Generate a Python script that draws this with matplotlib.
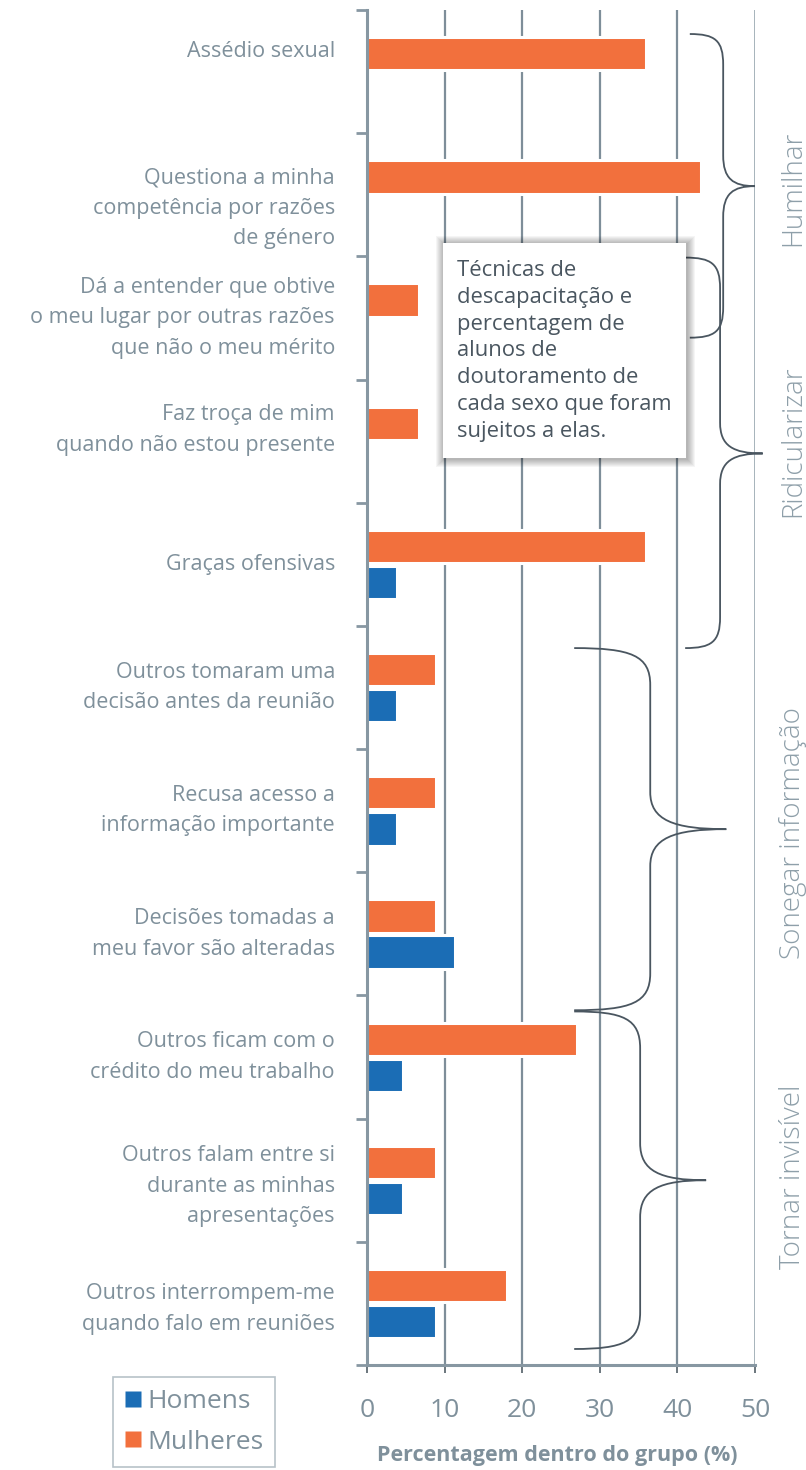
import matplotlib
matplotlib.use("Agg")
import matplotlib.pyplot as plt
from matplotlib.patches import Rectangle, PathPatch
from matplotlib.path import Path
from matplotlib.lines import Line2D
import numpy as np

plt.rcParams['font.family'] = ['Open Sans', 'DejaVu Sans']

# ---------------- data ----------------
categories = [
    "Assédio sexual",
    "Questiona a minha\ncompetência por razões\nde género",
    "Dá a entender que obtive\no meu lugar por outras razões\nque não o meu mérito",
    "Faz troça de mim\nquando não estou presente",
    "Graças ofensivas",
    "Outros tomaram uma\ndecisão antes da reunião",
    "Recusa acesso a\ninformação importante",
    "Decisões tomadas a\nmeu favor são alteradas",
    "Outros ficam com o\ncrédito do meu trabalho",
    "Outros falam entre si\ndurante as minhas\napresentações",
    "Outros interrompem-me\nquando falo em reuniões",
]
mulheres = [36.0, 43.0, 6.7, 6.7, 36.0, 8.9, 8.9, 8.9, 27.0, 8.9, 18.0]
homens = [0.0, 0.0, 0.0, 0.0, 3.9, 3.9, 3.9, 11.4, 4.7, 4.7, 8.9]
xticks = [0, 10, 20, 30, 40, 50]
groups = ["Humilhar", "Ridicularizar", "Sonegar informação", "Tornar invisível"]
legend_labels = ["Homens", "Mulheres"]
xlabel = "Percentagem dentro do grupo (%)"
note = ("Técnicas de\ndescapacitação e\npercentagem de\nalunos de\n"
        "doutoramento de\ncada sexo que foram\nsujeitos a elas.")

# ---------------- style ----------------
W, H = 806, 1470
C_OR = "#F2703D"
C_BL = "#1B6DB5"
C_GRID = "#7E8E99"
C_GRID50 = "#A6B3BB"
C_TXT = "#7F909B"
C_GRP = "#8E9FA9"
C_DARK = "#4A5660"

fig = plt.figure(figsize=(W / 100, H / 100), dpi=100)
ax_l, ax_r, ax_t, ax_b = 367, 755, 10, 1365
ax = fig.add_axes([ax_l / W, 1 - ax_b / H, (ax_r - ax_l) / W, (ax_b - ax_t) / H])

n = len(categories)
y = np.arange(n)
bh = 0.27
ax.set_xlim(0, 50)
ax.set_ylim(n - 0.5, -0.5)

# gridlines
for xv in xticks[1:-1]:
    ax.axvline(xv, color=C_GRID, lw=1.6, zorder=1)
ax.axvline(50, color=C_GRID50, lw=1.4, zorder=1)

ax.barh(y - 0.145, mulheres, height=bh, color=C_OR, edgecolor="white",
        linewidth=2.2, zorder=2)
ax.barh(y + 0.148, homens, height=bh, color=C_BL, edgecolor="white",
        linewidth=2.2, zorder=2)

for s in ["top", "right"]:
    ax.spines[s].set_visible(False)
ax.spines["left"].set_color("#8797A2")
ax.spines["left"].set_linewidth(2.2)
ax.spines["bottom"].set_color("#8797A2")
ax.spines["bottom"].set_linewidth(2.2)

# y ticks at band boundaries
ax.set_yticks(np.arange(-0.5, n, 1.0))
ax.set_yticklabels([])
ax.tick_params(axis="y", length=8, width=2, color="#8797A2", direction="out")

ax.set_xticks(xticks)
ax.set_xticklabels([str(v) for v in xticks])
ax.tick_params(axis="x", length=6, width=1.3, color="#5F6B73", pad=18,
               labelsize=19, labelcolor=C_TXT)

# category labels
label_off = [-0.16, 0.11, 0.0, -0.09, 0.0, 0.0, 0.0, 0.0, 0.0, 0.05, 0.045]
tr = matplotlib.transforms.blended_transform_factory(fig.transFigure, ax.transData)
for i, lab in enumerate(categories):
    ax.text(335 / W, i + label_off[i], lab, transform=tr, ha="right",
            va="center", fontsize=15.5, color=C_TXT, linespacing=1.6)

fig.text(557 / W, 1 - 1455 / H, xlabel, ha="center", va="center",
         fontsize=15.5, fontweight="bold", color=C_TXT)

# braces
def brace(xe, xm, xt, yt, ytip, yb, r=0.25):
    verts = [
        (xe, yt), (xe + 0.75 * (xm - xe), yt), (xm, yt + 0.2 * r), (xm, yt + r),
        (xm, ytip - r),
        (xm, ytip - 0.25 * r), (xm + 0.3 * (xt - xm), ytip), (xt, ytip),
        (xm + 0.3 * (xt - xm), ytip), (xm, ytip + 0.25 * r), (xm, ytip + r),
        (xm, yb - r),
        (xm, yb - 0.2 * r), (xe + 0.75 * (xm - xe), yb), (xe, yb),
    ]
    codes = [Path.MOVETO, Path.CURVE4, Path.CURVE4, Path.CURVE4,
             Path.LINETO,
             Path.CURVE4, Path.CURVE4, Path.CURVE4,
             Path.CURVE4, Path.CURVE4, Path.CURVE4,
             Path.LINETO,
             Path.CURVE4, Path.CURVE4, Path.CURVE4]
    p = PathPatch(Path(verts, codes), facecolor="none", edgecolor=C_DARK,
                  lw=1.3, zorder=4, clip_on=False)
    ax.add_patch(p)

brace(41.6, 45.9, 50.0, -0.305, 0.93, 2.16)
brace(41.0, 45.5, 51.0, 1.51, 3.10, 4.68)
brace(26.7, 36.5, 46.3, 4.68, 6.15, 7.62, r=0.3)
brace(26.7, 35.2, 43.7, 7.63, 9.0, 10.37, r=0.3)

group_y = [0.945, 3.0, 6.18, 8.97]
for g, gy in zip(groups, group_y):
    ax.text(54.9, gy, g, rotation=90, ha="center", va="center", fontsize=20,
            color=C_GRP, fontweight="light", clip_on=False)

# note box with soft shadow
bx0, bx1, by0, by1 = 443, 686, 243, 458
for k in range(8, 0, -1):
    fig.patches.append(Rectangle(((bx0 - k + 1) / W, 1 - (by1 + k + 1) / H),
                                 (bx1 - bx0 + 2 * k) / W, (by1 - by0 + 2 * k) / H,
                                 transform=fig.transFigure, facecolor="black",
                                 edgecolor="none", alpha=0.04, zorder=5))
fig.patches.append(Rectangle((bx0 / W, 1 - by1 / H), (bx1 - bx0) / W, (by1 - by0) / H,
                             transform=fig.transFigure, facecolor="white",
                             edgecolor="none", zorder=6))
fig.text(457 / W, 1 - 260 / H, note, ha="left", va="top", fontsize=15.8,
         color=C_DARK, linespacing=1.36, zorder=7)

# legend
handles = [Line2D([], [], marker="s", linestyle="none", markersize=12,
                  markerfacecolor=C_BL, markeredgecolor="none"),
           Line2D([], [], marker="s", linestyle="none", markersize=12,
                  markerfacecolor=C_OR, markeredgecolor="none")]
leg = fig.legend(handles, legend_labels, loc="upper left",
                 bbox_to_anchor=(113 / W, 1 - 1377 / H), frameon=True,
                 fancybox=False, fontsize=19, labelcolor=C_TXT,
                 handletextpad=0.25, handlelength=0.6, borderpad=0.45,
                 labelspacing=0.6, borderaxespad=0)
leg.get_frame().set_edgecolor(C_GRID50)
leg.get_frame().set_linewidth(1.2)

fig.savefig("out.png", dpi=100)
